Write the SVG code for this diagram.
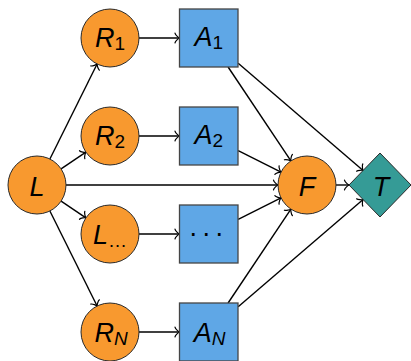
<svg xmlns="http://www.w3.org/2000/svg" width="411" height="361" viewBox="0 0 411 361">
  <style>
    .bg { fill: #ffffff; }
    .circ { fill: #F8992F; stroke: #2a2a2a; stroke-width: 1; }
    .box { fill: #5FA7E6; stroke: #454545; stroke-width: 1.3; }
    .dia { fill: #359B96; stroke: #2a2a2a; stroke-width: 1; }
    .lbl { font-family: "Liberation Sans", Arial, sans-serif; font-style: italic; font-size: 27px; fill: #000; text-anchor: middle; }
    .sub { font-size: 19px; }
    .up { font-style: normal; }
    .edge { fill: none; stroke: #000; stroke-width: 1.4; marker-end: url(#to); }
  </style>
  <defs>
    <marker id="to" markerUnits="userSpaceOnUse" orient="auto" refX="0.9" refY="0" markerWidth="12" markerHeight="12" viewBox="-5 -6 7 12" overflow="visible">
      <path d="M -3.6,4.8 C -3.3,3 0,0.3 0.9,0 C 0,-0.3 -3.3,-3 -3.6,-4.8" fill="none" stroke="#000" stroke-width="1.2" stroke-linecap="round" stroke-linejoin="round"/>
    </marker>
  </defs>
  <rect class="bg" x="0" y="0" width="411" height="361"/>

  <!-- connectors -->
  <g id="edges">
    <line class="edge" x1="49.9" y1="159" x2="97.1" y2="64"/>
    <line class="edge" x1="61.1" y1="168.8" x2="85.9" y2="152.2"/>
    <line class="edge" x1="61.1" y1="201.2" x2="85.9" y2="217.8"/>
    <line class="edge" x1="49.9" y1="211" x2="97.1" y2="306"/>
    <line class="edge" x1="66" y1="185" x2="278" y2="185"/>
    <line class="edge" x1="139" y1="38" x2="179.5" y2="38"/>
    <line class="edge" x1="139" y1="136" x2="179.5" y2="136"/>
    <line class="edge" x1="139" y1="234" x2="179.5" y2="234"/>
    <line class="edge" x1="139" y1="332" x2="179.5" y2="332"/>
    <line class="edge" x1="228.1" y1="67" x2="290.9" y2="160.9"/>
    <line class="edge" x1="238.2" y1="63.3" x2="363.1" y2="170.5"/>
    <line class="edge" x1="238.2" y1="150.7" x2="281" y2="172.1"/>
    <line class="edge" x1="238.2" y1="219.3" x2="281" y2="197.9"/>
    <line class="edge" x1="228.1" y1="303" x2="290.9" y2="209.1"/>
    <line class="edge" x1="238.2" y1="306.7" x2="363.1" y2="199.5"/>
    <line class="edge" x1="336" y1="185" x2="349" y2="185"/>
  </g>

  <g id="L">
    <circle class="circ" cx="37" cy="185" r="29"/>
    <text class="lbl" x="37" y="195.5">L</text>
  </g>
  <g id="R1">
    <circle class="circ" cx="110" cy="38" r="29"/>
    <text class="lbl" x="110" y="46.5">R<tspan class="sub up" dy="3">1</tspan></text>
  </g>
  <g id="R2">
    <circle class="circ" cx="110" cy="136" r="29"/>
    <text class="lbl" x="110" y="144.5">R<tspan class="sub up" dy="3">2</tspan></text>
  </g>
  <g id="Ldots">
    <circle class="circ" cx="110" cy="234" r="29"/>
    <text class="lbl" x="110" y="244">L<tspan class="sub up" dy="3">…</tspan></text>
  </g>
  <g id="RN">
    <circle class="circ" cx="110" cy="332" r="29"/>
    <text class="lbl" x="111" y="342">R<tspan class="sub" dy="3">N</tspan></text>
  </g>
  <g id="A1">
    <rect class="box" x="179.5" y="9" width="58.5" height="58"/>
    <text class="lbl" x="208.7" y="46">A<tspan class="sub up" dy="3">1</tspan></text>
  </g>
  <g id="A2">
    <rect class="box" x="179.5" y="107" width="58.5" height="58"/>
    <text class="lbl" x="208.7" y="144">A<tspan class="sub up" dy="3">2</tspan></text>
  </g>
  <g id="Adots">
    <rect class="box" x="179.5" y="205" width="58.5" height="58"/>
    <text class="lbl up" y="236"><tspan x="193.3">.</tspan><tspan x="206.3">.</tspan><tspan x="219.3">.</tspan></text>
  </g>
  <g id="AN">
    <rect class="box" x="179.5" y="303" width="58.5" height="58"/>
    <text class="lbl" x="209.5" y="342">A<tspan class="sub" dy="3">N</tspan></text>
  </g>
  <g id="F">
    <circle class="circ" cx="307" cy="185" r="29"/>
    <text class="lbl" x="307" y="196">F</text>
  </g>
  <g id="T">
    <polygon class="dia" points="380,153 411,185 380,217 349,185"/>
    <text class="lbl" x="381" y="196">T</text>
  </g>
</svg>
